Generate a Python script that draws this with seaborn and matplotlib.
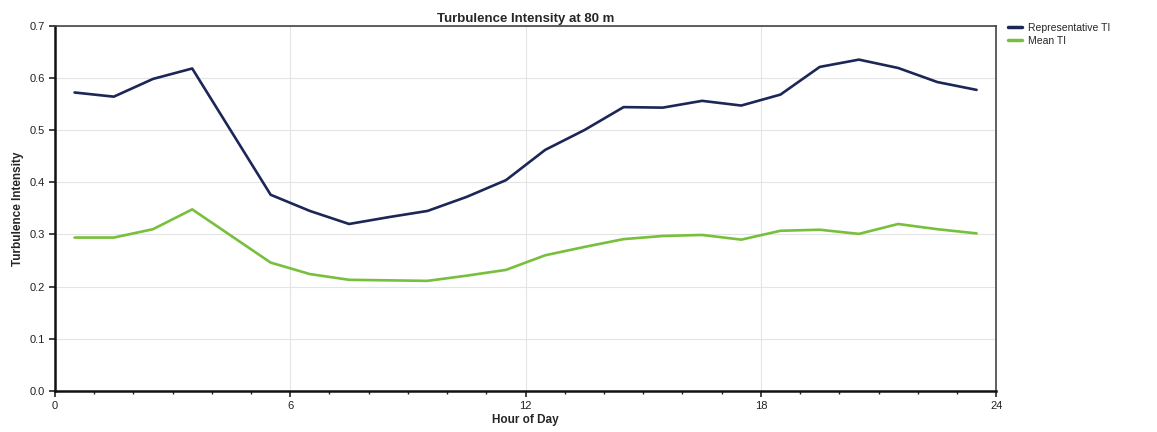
import numpy as np
import pandas as pd
import matplotlib
matplotlib.use("Agg")
import matplotlib.pyplot as plt
import seaborn as sns
from matplotlib.ticker import MultipleLocator

hours = [0.5, 1.5, 2.5, 3.5, 4.5, 5.5, 6.5, 7.5, 8.5, 9.5, 10.5, 11.5,
         12.5, 13.5, 14.5, 15.5, 16.5, 17.5, 18.5, 19.5, 20.5, 21.5, 22.5, 23.5]
representative_ti = [0.572, 0.564, 0.598, 0.618, 0.497, 0.376, 0.345, 0.320,
                     0.333, 0.345, 0.372, 0.404, 0.462, 0.500, 0.544, 0.543,
                     0.556, 0.547, 0.568, 0.621, 0.635, 0.619, 0.592, 0.577]
mean_ti = [0.294, 0.294, 0.310, 0.348, 0.297, 0.246, 0.224, 0.213,
           0.212, 0.211, 0.221, 0.232, 0.260, 0.276, 0.291, 0.297,
           0.299, 0.290, 0.307, 0.309, 0.301, 0.320, 0.310, 0.302]
series_names = ["Representative TI", "Mean TI"]
colors = ["#1c2657", "#78bf3c"]
x_ticks = [0, 6, 12, 18, 24]
y_ticks = [0.0, 0.1, 0.2, 0.3, 0.4, 0.5, 0.6, 0.7]

sns.set_style("white")
plt.rcParams['font.family'] = ['Liberation Sans', 'DejaVu Sans']

df = pd.DataFrame({
    "Hour": hours * 2,
    "TI": representative_ti + mean_ti,
    "Series": [series_names[0]] * len(hours) + [series_names[1]] * len(hours),
})

fig = plt.figure(figsize=(11.57, 4.32), dpi=100)
ax = fig.add_axes([0.0475, 0.095, 0.8135, 0.8455])

sns.lineplot(data=df, x="Hour", y="TI", hue="Series", palette=colors,
             linewidth=1.9, ax=ax, legend=True)

ax.set_xlim(0, 24)
ax.set_ylim(0, 0.7)
ax.set_xticks(x_ticks)
ax.set_yticks(y_ticks)
ax.set_yticklabels([f"{v:.1f}" for v in y_ticks])
ax.xaxis.set_minor_locator(MultipleLocator(1))
ax.grid(True, which="major", color="#e4e4e4", linewidth=0.8)
ax.set_axisbelow(True)

ax.tick_params(axis="both", which="major", direction="out", length=4, width=1.2,
               labelsize=8, colors="#222222", bottom=True, left=True)
ax.tick_params(axis="x", which="minor", direction="out", length=2.5, width=1.0,
               bottom=True)

for side in ["left", "bottom"]:
    ax.spines[side].set_color("#111111")
    ax.spines[side].set_linewidth(1.8)
for side in ["top", "right"]:
    ax.spines[side].set_color("#444444")
    ax.spines[side].set_linewidth(1.2)

ax.set_title("Turbulence Intensity at 80 m", fontsize=9.5, fontweight="bold", pad=3)
ax.set_xlabel("Hour of Day", fontsize=8.5, fontweight="bold", labelpad=2)
ax.set_ylabel("Turbulence Intensity", fontsize=8.5, fontweight="bold", labelpad=4)

leg = ax.legend(loc="upper left", bbox_to_anchor=(1.008, 1.02), frameon=False,
                fontsize=7.5, handlelength=1.4, handletextpad=0.5, labelspacing=0.3,
                borderaxespad=0)
for line in leg.get_lines():
    line.set_linewidth(2.5)

fig.savefig("out.png", dpi=100, facecolor="white")
